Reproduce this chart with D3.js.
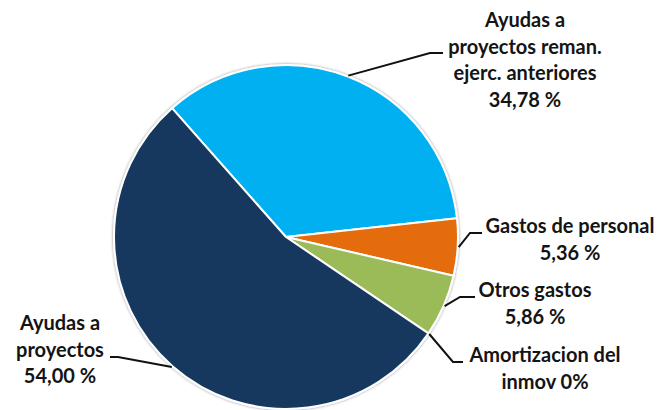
<!DOCTYPE html>
<html>
<head>
<meta charset="utf-8">
<script src="https://cdn.jsdelivr.net/npm/d3@7"></script>
<style>
  body { margin: 0; background: #fff; }
  .lbl { font-family: Lato, "Open Sans", sans-serif; font-weight: 700; font-size: 20px; fill: #141414; }
</style>
</head>
<body>
<div id="chart"></div>
<script>
// data (clockwise from the first slice edge)
var categories = ["Ayudas a proyectos reman. ejerc. anteriores", "Gastos de personal", "Otros gastos", "Amortizacion del inmov", "Ayudas a proyectos"];
var values = [34.78, 5.36, 5.86, 0, 54.00];
var labelLines = [
    ["Ayudas a", "proyectos reman.", "ejerc. anteriores", "34,78 %"],
    ["Gastos de personal", "5,36 %"],
    ["Otros gastos", "5,86 %"],
    ["Amortizacion del", "inmov 0%"],
    ["Ayudas a", "proyectos", "54,00 %"]
];
var colors = ["#00b0f0", "#e46c0a", "#9bbb59", "#17375e", "#17375e"];

// label layout: elbow of leader, end of leader, text centre x, first baseline
var labelLayout = [
    {elbow: [430, 53], end: [443, 53], tx: 525, ty: 27},
    {elbow: [470, 233], end: [482, 233], tx: 570, ty: 233},
    {elbow: [460, 297], end: [475, 297], tx: 535, ty: 297},
    {elbow: [453, 362], end: [463, 362], tx: 545, ty: 362},
    {elbow: [118, 357], end: [110, 357], tx: 60, ty: 330}
];

var width = 662, height = 410;
var cx = 286, cy = 237, rad = 172;
var lineH = 26.5;

var svg = d3.select("#chart").append("svg")
    .attr("width", width)
    .attr("height", height);

var defs = svg.append("defs");
var f = defs.append("filter").attr("id", "shadow")
    .attr("x", "-10%").attr("y", "-10%").attr("width", "120%").attr("height", "120%");
f.append("feGaussianBlur").attr("in", "SourceAlpha").attr("stdDeviation", 1.5);
f.append("feOffset").attr("dx", 0).attr("dy", 0).attr("result", "b");
f.append("feComponentTransfer").append("feFuncA").attr("type", "linear").attr("slope", 0.45);
var m = f.append("feMerge");
m.append("feMergeNode");
m.append("feMergeNode").attr("in", "SourceGraphic");

var pie = d3.pie()
    .sort(null)
    .value(function(d) { return d; })
    .startAngle(-41.5 * Math.PI / 180)
    .endAngle((360 - 41.5) * Math.PI / 180);

var arcs = pie(values);

var arc = d3.arc().innerRadius(0).outerRadius(rad);
var edgeArc = d3.arc().innerRadius(rad + 1).outerRadius(rad + 1);

var g = svg.append("g").attr("transform", "translate(" + cx + "," + cy + ")");

g.append("g").attr("filter", "url(#shadow)")
    .selectAll("path")
    .data(arcs)
    .enter().append("path")
    .attr("d", arc)
    .attr("fill", function(d, i) { return colors[i]; })
    .attr("stroke", "#fff")
    .attr("stroke-width", function(d) { return d.value > 0 ? 2 : 0; })
    .attr("stroke-linejoin", "round");

// leader lines
svg.selectAll(".leader")
    .data(arcs)
    .enter().append("polyline")
    .attr("class", "leader")
    .attr("fill", "none")
    .attr("stroke", "#111")
    .attr("stroke-width", 2)
    .attr("points", function(d, i) {
        var c = edgeArc.centroid(d);
        var L = labelLayout[i];
        return [[c[0] + cx, c[1] + cy], L.elbow, L.end].map(function(p) { return p.join(","); }).join(" ");
    });

// labels
var lbl = svg.selectAll(".lbl")
    .data(labelLines)
    .enter().append("text")
    .attr("class", "lbl")
    .attr("text-anchor", "middle");

lbl.each(function(lines, i) {
    var L = labelLayout[i];
    d3.select(this).selectAll("tspan")
        .data(lines)
        .enter().append("tspan")
        .attr("x", L.tx)
        .attr("y", function(d, j) { return L.ty + j * lineH; })
        .text(function(d) { return d; });
});
</script>
</body>
</html>
